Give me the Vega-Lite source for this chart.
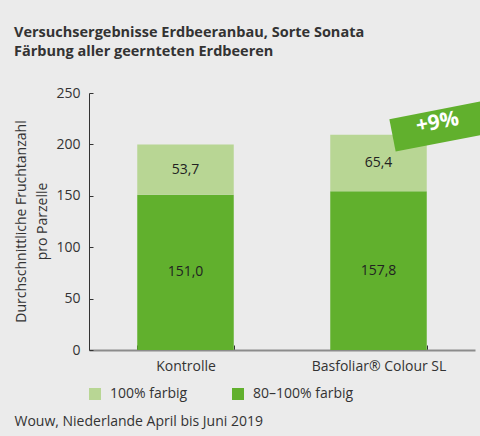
{
  "$schema": "https://vega.github.io/schema/vega-lite/v6.json",
  "autosize": {"type": "none"},
  "width": 386,
  "height": 257,
  "padding": {"left": 89, "top": 93, "right": 5, "bottom": 86},
  "background": "#ebebeb",
  "title": {
    "text": ["Versuchsergebnisse Erdbeeranbau, Sorte Sonata", "Färbung aller geernteten Erdbeeren"],
    "anchor": "start",
    "frame": "group",
    "dx": -75,
    "offset": 27,
    "font": "Open Sans",
    "fontSize": 14.5,
    "fontWeight": "bold",
    "color": "#333333",
    "lineHeight": 19
  },
  "config": {
    "view": {"stroke": null},
    "font": "Open Sans",
    "locale": {"number": {"decimal": ",", "thousands": ".", "grouping": [3], "currency": ["", " €"]}},
    "axis": {"grid": false, "labelFont": "Open Sans", "titleFont": "Open Sans", "labelFontSize": 14, "labelColor": "#333333", "titleColor": "#333333", "titleFontWeight": "normal", "titleFontSize": 14}
  },
  "datasets": {
    "bars": [
      {"treatment": "Kontrolle", "segment": "80–100% farbig", "value": 151, "label": 151.0},
      {"treatment": "Kontrolle", "segment": "100% farbig", "value": 49, "label": 53.7},
      {"treatment": "Basfoliar® Colour SL", "segment": "80–100% farbig", "value": 154.5, "label": 157.8},
      {"treatment": "Basfoliar® Colour SL", "segment": "100% farbig", "value": 55, "label": 65.4}
    ],
    "badge": [
      {"treatment": "Basfoliar® Colour SL", "value": 219, "text": "+9%"}
    ]
  },
  "layer": [
    {
      "data": {"name": "bars"},
      "mark": {"type": "bar"},
      "encoding": {
        "x": {
          "field": "treatment", "type": "nominal", "sort": ["Kontrolle", "Basfoliar® Colour SL"],
          "scale": {"paddingInner": 0.5, "paddingOuter": 0.25},
          "axis": {
            "labelAngle": 0, "tickBand": "extent", "tickSize": -5, "tickColor": "#333333",
            "labelPadding": 14, "domainColor": "#8c8c8c", "domainWidth": 2,
            "title": "Wouw, Niederlande April bis Juni 2019",
            "titleX": -75, "titleY": 71, "titleAlign": "left", "titleAnchor": "start", "titleBaseline": "middle"
          }
        },
        "y": {
          "field": "value", "type": "quantitative", "stack": "zero",
          "scale": {"domain": [0, 250], "nice": false},
          "axis": {
            "values": [0, 50, 100, 150, 200, 250], "tickSize": -4, "tickColor": "#333333",
            "labelPadding": 13, "domainColor": "#333333", "domainWidth": 1,
            "title": ["Durchschnittliche Fruchtanzahl", "pro Parzelle"],
            "titleAngle": -90, "titleX": -68, "titleY": 128, "titleAlign": "center", "titleBaseline": "middle", "titleLineHeight": 21
          }
        },
        "order": {"field": "segment", "sort": "descending"},
        "color": {
          "field": "segment", "type": "nominal",
          "scale": {"domain": ["100% farbig", "80–100% farbig"], "range": ["#b8d694", "#61b02d"]},
          "legend": {
            "title": null, "orient": "none", "legendX": -1, "legendY": 294, "direction": "horizontal",
            "symbolType": "square", "symbolSize": 144, "symbolStrokeWidth": 0, "symbolOpacity": 1,
            "labelFontSize": 14, "labelColor": "#333333", "labelFont": "Open Sans", "labelOffset": 8, "columnPadding": 43
          }
        }
      }
    },
    {
      "data": {"name": "bars"},
      "transform": [
        {"stack": "value", "groupby": ["treatment"], "sort": [{"field": "segment", "order": "descending"}], "as": ["v0", "v1"]},
        {"calculate": "(datum.v0 + datum.v1) / 2", "as": "mid"}
      ],
      "mark": {"type": "text", "font": "Open Sans", "fontSize": 14, "color": "#222222", "baseline": "middle"},
      "encoding": {
        "x": {"field": "treatment", "type": "nominal", "sort": ["Kontrolle", "Basfoliar® Colour SL"]},
        "y": {"field": "mid", "type": "quantitative"},
        "text": {"field": "label", "type": "quantitative", "format": ".1f"}
      }
    },
    {
      "data": {"name": "badge"},
      "mark": {"type": "point", "filled": true, "opacity": 1, "color": "#61b02d", "shape": "M-1,-0.3L1,-0.3L1,0.3L-1,0.3Z", "size": 12100, "angle": -11, "xOffset": 68},
      "encoding": {
        "x": {"field": "treatment", "type": "nominal", "sort": ["Kontrolle", "Basfoliar® Colour SL"]},
        "y": {"field": "value", "type": "quantitative"}
      }
    },
    {
      "data": {"name": "badge"},
      "mark": {"type": "text", "font": "Open Sans", "fontSize": 21, "fontWeight": "bold", "color": "white", "angle": -11, "baseline": "middle", "align": "center", "xOffset": 59, "yOffset": -2},
      "encoding": {
        "x": {"field": "treatment", "type": "nominal", "sort": ["Kontrolle", "Basfoliar® Colour SL"]},
        "y": {"field": "value", "type": "quantitative"},
        "text": {"field": "text", "type": "nominal"}
      }
    }
  ]
}
